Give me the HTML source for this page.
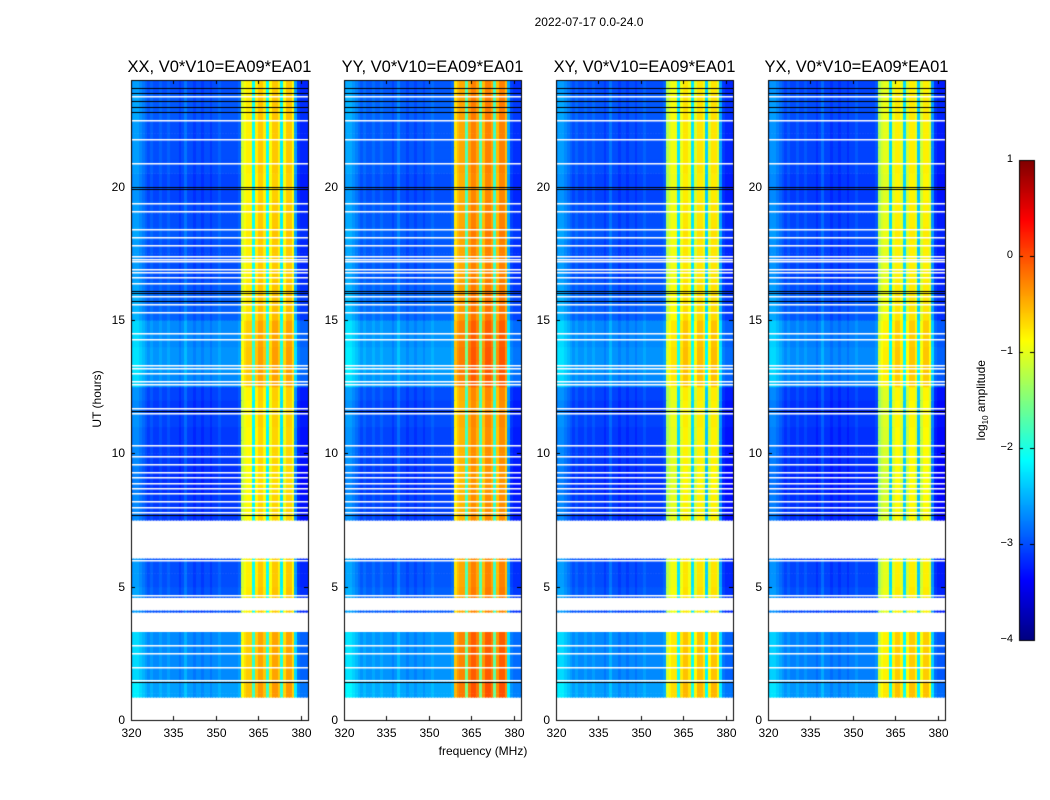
<!DOCTYPE html>
<html><head><meta charset="utf-8">
<style>
body{margin:0;background:#fff;width:1050px;height:800px;overflow:hidden;font-family:"Liberation Sans",sans-serif;}
#root{position:relative;width:1050px;height:800px;}
.t{position:absolute;white-space:nowrap;color:#000;}
canvas{position:absolute;left:0;top:0;}
</style></head>
<body>
<div id="root">
<canvas id="cv" width="1050" height="800"></canvas>
<div class="t" style="left:489px;top:15px;width:200px;text-align:center;font-size:12px;">2022-07-17 0.0-24.0</div>
<div class="t" style="left:383px;top:744px;width:200px;text-align:center;font-size:12px;">frequency (MHz)</div>
<div class="t" style="left:47px;top:392px;width:100px;text-align:center;font-size:12px;transform:rotate(-90deg);">UT (hours)</div>
<div class="t" style="left:922px;top:392px;width:120px;text-align:center;font-size:12px;transform:rotate(-90deg);">log<sub style="font-size:8px">10</sub> amplitude</div>
<div id="labels"></div>
</div>
<script>
const panelNames=["XX","YY","XY","YX"];
const panelLefts=[131,344,556,768];
const freqProfile=[-2.3,-2.2,-2.2,-2.3,-2.4,-2.5,-2.6,-2.5,-2.6,-2.6,-2.5,-2.6,-2.6,-2.5,-2.6,-2.6,-2.6,-2.7,-2.6,-2.4,-2.6,-2.6,-2.7,-2.6,-2.6,-2.7,-2.6,-2.6,-2.7,-2.6,-2.6,-2.5,-2.6,-2.6,-2.6,-2.6,-2.6,-2.6,-2.5,
-0.8,-0.6,-0.5,-0.5,-1.8,-0.5,-0.3,-0.3,-0.5,-1.8,-0.6,-0.3,-0.3,-0.5,-1.9,-0.6,-0.3,-0.3,-0.6,-2.2,-2.7,-2.8,-2.8,-2.8];
const bandOffset=[-0.3,0.05,-0.45,-0.5];
const bgOffset=[-0.4,-0.35,-0.4,-0.45];
const timeOff=[0,0.4,0.4,0.3,0.3,0.3,0.3,0,0,0.05,0,0,0,0,0,-0.1,-0.1,-0.15,-0.15,-0.1,-0.1,-0.1,-0.05,-0.1,-0.05,0.3,0.35,0.35,0.3,0.3,0.1,0.1,0.05,0,0,0,0.05,0,0,-0.05,-0.05,0,0,0,0,0.05,0.05,0];
const validSegments=[[0.86,1.42],[1.45,3.3],[4.05,4.1],[4.6,6.05],[7.5,24]];
const whiteLines=[23.4,22.5,21.8,20.9,19.4,19.1,18.4,18.1,17.8,17.4,17.3,17.2,16.9,16.8,16.6,16.4,15.9,15.6,15.3,14.5,14.3,13.3,13.2,13.0,12.7,12.6,11.7,11.5,10.3,9.9,9.6,9.3,9.1,8.9,8.7,8.5,8.2,8.0,7.8,6.0,4.7,2.8,2.5,2.0,1.5];
const blackLines=[23.7,23.5,23.2,23.0,22.8,20.0,19.9,16.1,16.0,15.7,11.6,7.7,1.42];
const xTicks=[320,335,350,365,380];
const yTicks=[0,5,10,15,20];
const cbTicks=[1,0,-1,-2,-3,-4];

const PW=177,TOP=80,BOT=720,F0=320,F1=382.6;
const xs=(f,l)=>l+(f-F0)/(F1-F0)*PW;
const ys=h=>BOT-h/24*(BOT-TOP);
function jet(v){
  const c=x=>Math.max(0,Math.min(1,x));
  const r=c(1.5-Math.abs(4*v-3)),g=c(1.5-Math.abs(4*v-2)),b=c(1.5-Math.abs(4*v-1));
  return `rgb(${Math.round(r*255)},${Math.round(g*255)},${Math.round(b*255)})`;
}
const col=val=>jet((val+4)/5);
const cv=document.getElementById('cv');
const ctx=cv.getContext('2d');
const L=document.getElementById('labels');
function label(txt,x,y,w,align,size,name){
  const d=document.createElement('div');d.className='t';
  
  
  d.style.left=x+'px';d.style.top=y+'px';d.style.width=w+'px';d.style.textAlign=align;d.style.fontSize=size+'px';
  d.textContent=txt;L.appendChild(d);
}
panelNames.forEach((pn,p)=>{
  const l=panelLefts[p];
  ctx.save();ctx.beginPath();ctx.rect(l,TOP,PW,BOT-TOP);ctx.clip();
  validSegments.forEach(([a,b])=>{
    for(let t=0;t<48;t++){
      const h0=Math.max(a,t/2),h1=Math.min(b,(t+1)/2);
      if(h1<=h0)continue;
      for(let i=0;i<freqProfile.length;i++){
        const inBand=freqProfile[i]>-2.0;
        let v=freqProfile[i]+(inBand?bandOffset[p]:bgOffset[p])+timeOff[t]*(inBand?0.6:1);
        ctx.fillStyle=col(v);
        const x0=xs(F0+i,l),x1=xs(F0+i+1,l);
        ctx.fillRect(Math.floor(x0),ys(h1),Math.ceil(x1)-Math.floor(x0),ys(h0)-ys(h1)+0.5);
      }
    }
  });
  ctx.fillStyle='#fff';
  whiteLines.forEach(h=>ctx.fillRect(l,Math.round(ys(h)),PW,1.5));
  ctx.fillStyle='#000';
  blackLines.forEach(h=>ctx.fillRect(l,Math.round(ys(h)),PW,1));
  ctx.restore();
  ctx.strokeStyle='#000';ctx.lineWidth=1;
  ctx.strokeRect(l+0.5,TOP+0.5,PW,BOT-TOP);
  xTicks.forEach(f=>{const x=Math.round(xs(f,l))+0.5;ctx.beginPath();ctx.moveTo(x,BOT);ctx.lineTo(x,BOT-4);ctx.moveTo(x,TOP);ctx.lineTo(x,TOP+4);ctx.stroke();
    label(String(f),x-20,726,40,'center',12,'x-tick-label');});
  yTicks.forEach(h=>{const y=Math.round(ys(h))+0.5;ctx.beginPath();ctx.moveTo(l,y);ctx.lineTo(l+4,y);ctx.moveTo(l+PW,y);ctx.lineTo(l+PW-4,y);ctx.stroke();
    label(String(h),l-40,y-8,34,'right',12,'y-tick-label');});
  label(pn+', V0*V10=EA09*EA01',l-50,58,PW+100,'center',16.5,'panel-title');
});
const CX=1019,CW=15,CT=160,CB=640;
for(let y=CT;y<CB;y++){ctx.fillStyle=jet(1-(y-CT)/(CB-CT));ctx.fillRect(CX,y,CW,1);}
ctx.strokeStyle='#000';ctx.strokeRect(CX+0.5,CT+0.5,CW,CB-CT);
cbTicks.forEach(v=>{const y=Math.round(CB-(v+4)/5*(CB-CT))+0.5;
  ctx.beginPath();ctx.moveTo(CX,y);ctx.lineTo(CX+4,y);ctx.moveTo(CX+CW,y);ctx.lineTo(CX+CW-4,y);ctx.stroke();
  label(v<0?'\u2212'+Math.abs(v):String(v),CX-40,y-8,34,'right',11,'colorbar-tick-label');});
</script>
</body></html>
